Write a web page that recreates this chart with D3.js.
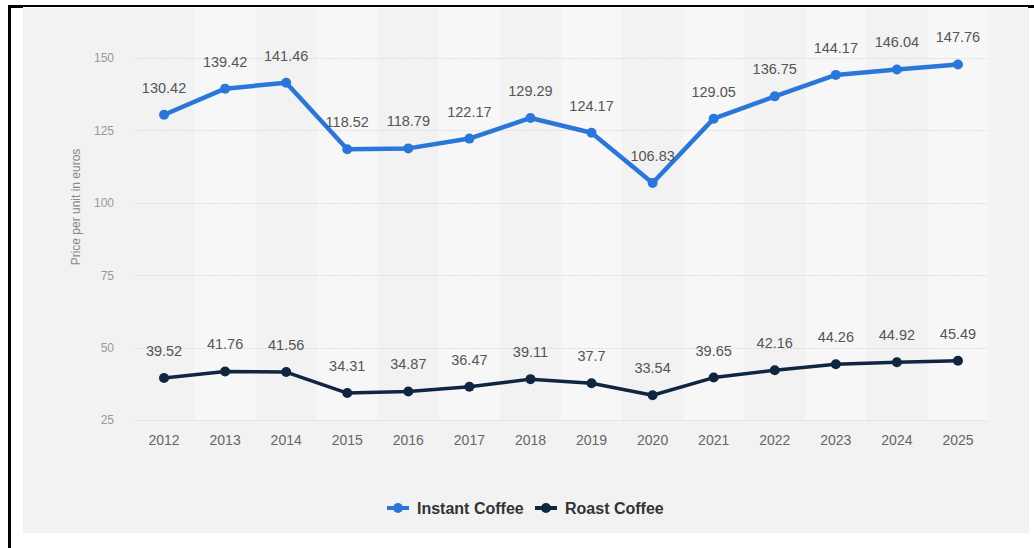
<!DOCTYPE html>
<html>
<head>
<meta charset="utf-8">
<script src="https://cdn.jsdelivr.net/npm/d3@7"></script>
<style>
  html, body { margin: 0; padding: 0; background: #ffffff; }
  svg { display: block; font-family: "Liberation Sans", Arial, Helvetica, sans-serif; }
</style>
</head>
<body>
<svg id="chart" width="1034" height="548"></svg>
<script>
// Coffee prices per unit (euros), 2012-2025
const years = ["2012","2013","2014","2015","2016","2017","2018","2019","2020","2021","2022","2023","2024","2025"];
const instantCoffee = [130.42, 139.42, 141.46, 118.52, 118.79, 122.17, 129.29, 124.17, 106.83, 129.05, 136.75, 144.17, 146.04, 147.76];
const roastCoffee = [39.52, 41.76, 41.56, 34.31, 34.87, 36.47, 39.11, 37.7, 33.54, 39.65, 42.16, 44.26, 44.92, 45.49];
const yTicks = [25, 50, 75, 100, 125, 150];
const seriesNames = ["Instant Coffee", "Roast Coffee"];
const yAxisTitle = "Price per unit in euros";

const colors = ["#2b77d9", "#0f2640"];

const svg = d3.select("#chart");

// outer frame
svg.append("rect").attr("x", 8).attr("y", 5).attr("width", 1022).attr("height", 2).attr("fill", "#000");
svg.append("rect").attr("x", 8).attr("y", 5).attr("width", 15).attr("height", 3).attr("fill", "#000");
svg.append("rect").attr("x", 1028).attr("y", 5).attr("width", 6).attr("height", 3).attr("fill", "#000");
svg.append("rect").attr("x", 8).attr("y", 5).attr("width", 3).attr("height", 543).attr("fill", "#000");

// grey panel
svg.append("rect").attr("x", 23).attr("y", 8).attr("width", 1006).attr("height", 525).attr("fill", "#f2f2f2");

const x = d3.scaleBand().domain(years).range([133.5, 988.5]);
const y = d3.scaleLinear().domain([25, 150]).range([420, 58]);
const cx = d => x(d) + x.bandwidth() / 2;

// alternating column bands
svg.append("g").selectAll("rect")
  .data(years.filter((d, i) => i % 2 === 1))
  .join("rect")
  .attr("x", d => x(d))
  .attr("y", 8)
  .attr("width", x.bandwidth())
  .attr("height", y(25) - 8)
  .attr("fill", "#f7f7f7");

// horizontal grid lines
svg.append("g").selectAll("line")
  .data(yTicks)
  .join("line")
  .attr("x1", 133.5)
  .attr("x2", 988.5)
  .attr("y1", d => Math.round(y(d)) + 0.5)
  .attr("y2", d => Math.round(y(d)) + 0.5)
  .attr("stroke", "#c8c8c8")
  .attr("stroke-width", 1)
  .attr("stroke-dasharray", "1,2");

// y axis
const yAxis = d3.axisLeft(y).tickValues(yTicks).tickSize(0).tickPadding(0);
const yG = svg.append("g").attr("transform", "translate(114,0)").call(yAxis);
yG.select(".domain").remove();
yG.selectAll("text")
  .attr("fill", "#999")
  .style("font-size", "12px")
  .style("font-family", "'Liberation Sans', Arial, sans-serif");

// x axis
const xAxis = d3.axisBottom(x).tickSize(0).tickPadding(0);
const xG = svg.append("g").attr("transform", "translate(0,435)").call(xAxis);
xG.select(".domain").remove();
xG.selectAll("text")
  .attr("fill", "#666")
  .style("font-size", "14px")
  .style("font-family", "'Liberation Sans', Arial, sans-serif");

// y axis title
svg.append("text")
  .attr("transform", "translate(80,207) rotate(-90)")
  .attr("text-anchor", "middle")
  .attr("fill", "#888")
  .style("font-size", "12px")
  .text(yAxisTitle);

// series
const series = [instantCoffee, roastCoffee];
const widths = [4.5, 3.5];
const radii = [5, 5];

series.forEach((vals, si) => {
  const pts = years.map((yr, i) => ({ yr, v: vals[i] }));
  const line = d3.line().x(d => cx(d.yr)).y(d => y(d.v));
  const g = svg.append("g");
  g.append("path")
    .datum(pts)
    .attr("d", line)
    .attr("fill", "none")
    .attr("stroke", colors[si])
    .attr("stroke-width", widths[si])
    .attr("stroke-linejoin", "round");
  g.selectAll("circle")
    .data(pts)
    .join("circle")
    .attr("cx", d => cx(d.yr))
    .attr("cy", d => y(d.v))
    .attr("r", radii[si])
    .attr("fill", colors[si]);
  g.selectAll("text")
    .data(pts)
    .join("text")
    .attr("x", d => cx(d.yr))
    .attr("y", d => y(d.v) - 22)
    .attr("text-anchor", "middle")
    .attr("fill", "#555")
    .style("font-size", "14.5px")
    .text(d => String(d.v));
});

// legend
const legend = svg.append("g").attr("transform", "translate(0,508)");
const legendItems = [
  { name: seriesNames[0], color: colors[0], sx: 387, tx: 417 },
  { name: seriesNames[1], color: colors[1], sx: 535, tx: 565 }
];
legendItems.forEach(it => {
  legend.append("line")
    .attr("x1", it.sx).attr("x2", it.sx + 22)
    .attr("y1", 0).attr("y2", 0)
    .attr("stroke", it.color).attr("stroke-width", 4);
  legend.append("circle")
    .attr("cx", it.sx + 11).attr("cy", 0).attr("r", 5)
    .attr("fill", it.color);
  legend.append("text")
    .attr("x", it.tx).attr("y", 6)
    .attr("fill", "#333")
    .style("font-size", "16px")
    .style("font-weight", "bold")
    .text(it.name);
});
</script>
</body>
</html>
